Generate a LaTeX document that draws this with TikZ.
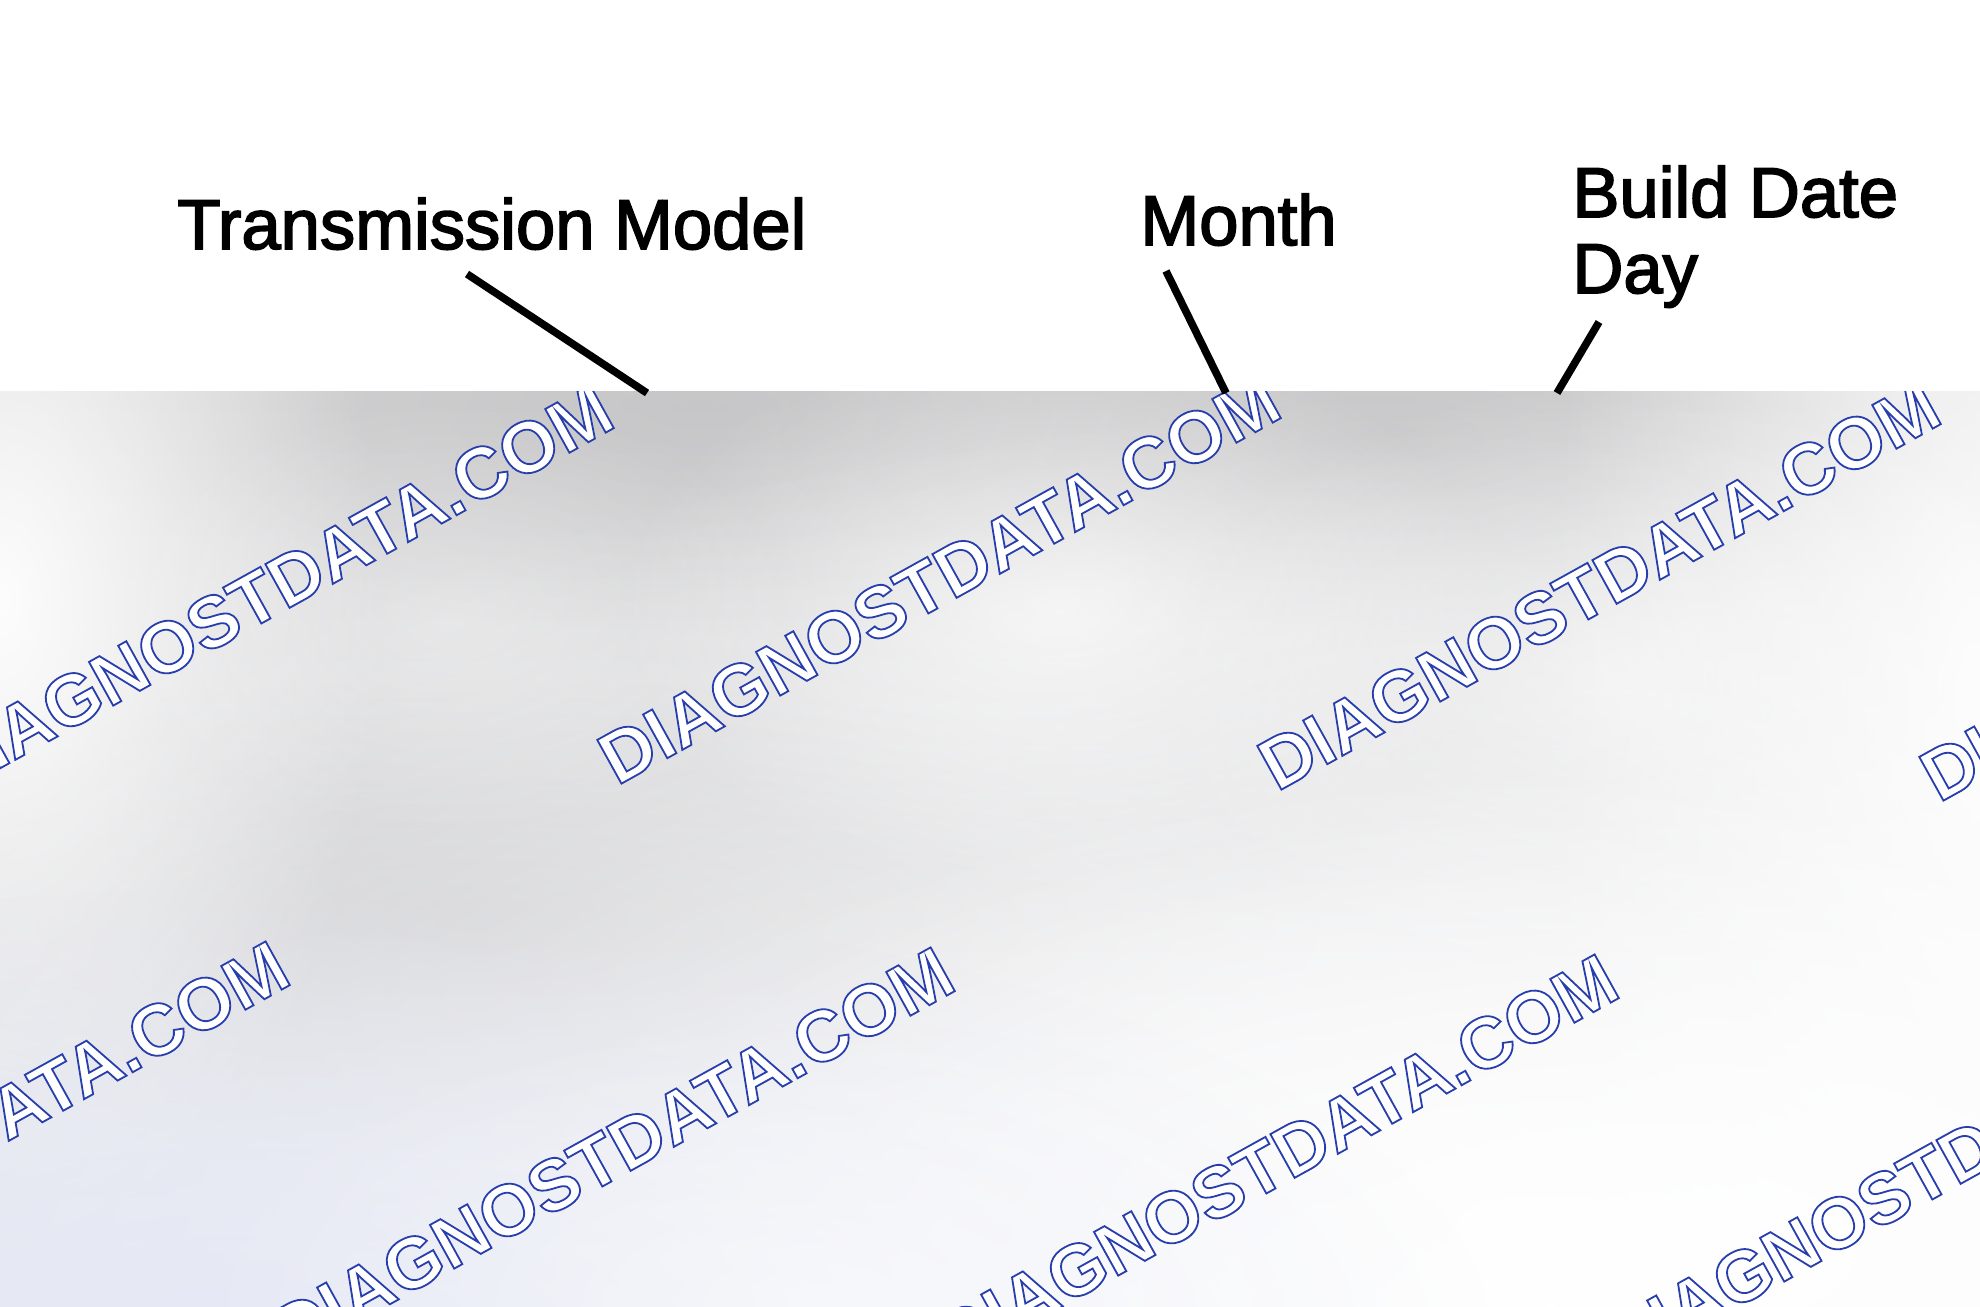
\documentclass[tikz,border=0pt]{standalone}
\usepackage{fontspec}
\setmainfont{Liberation Sans}
\usetikzlibrary{fadings}
\font\lblfnt="Liberation Sans:embolden=2.4" at 35.3pt
\definecolor{wmblue}{RGB}{40,62,172}
\definecolor{blobdark}{RGB}{190,190,192}
\definecolor{blobblue}{RGB}{228,232,246}
\tikzfading[name=softblob, inner color=transparent!0, outer color=transparent!100]
\newcommand{\wmtext}{\special{pdf:literal direct 2 Tr 0.9 w 0.157 0.243 0.675 RG}DIAGNOSTDATA.COM\special{pdf:literal direct 0 Tr}}
\tikzset{
  label/.style={font=\lblfnt, inner sep=0pt, anchor=base west, text=black},
  leader/.style={line width=3.8pt, black},
  wmark/.style={font=\fontsize{36.3}{40}\selectfont\bfseries, text=white, inner sep=0pt, rotate=29},
  lightblob/.style={fill=white, path fading=softblob},
  darkblob/.style={fill=blobdark, path fading=softblob}
}
\begin{document}
\begin{tikzpicture}[x=0.5pt, y=-0.5pt]
\useasboundingbox (0,0) rectangle (1980,1306);
\fill[white] (0,0) rectangle (1980,1306);
% blurred region
\begin{scope}
\clip (0,391) rectangle (1980,1306);
\shade[top color={rgb,255:red,211;green,211;blue,212}, bottom color={rgb,255:red,232;green,233;blue,237}] (0,391) rectangle (1980,1306);
% dark blobs
\fill[darkblob, fill opacity=0.6] (700,410) ellipse [x radius=320pt, y radius=110pt];
\fill[darkblob, fill opacity=0.55] (1380,440) ellipse [x radius=300pt, y radius=100pt];
\fill[darkblob, fill opacity=0.5] (480,920) ellipse [x radius=420pt, y radius=120pt];
\fill[darkblob, fill opacity=0.3] (1500,760) ellipse [x radius=250pt, y radius=90pt];
% light blobs
\fill[lightblob, fill opacity=0.95] (0,600) ellipse [x radius=190pt, y radius=330pt];
\fill[lightblob, fill opacity=0.7] (1060,610) ellipse [x radius=220pt, y radius=140pt];
\fill[lightblob, fill opacity=0.6] (1620,680) ellipse [x radius=230pt, y radius=150pt];
\fill[lightblob, fill opacity=0.95] (1990,700) ellipse [x radius=220pt, y radius=600pt];
\fill[lightblob, fill opacity=1] (1550,1306) ellipse [x radius=950pt, y radius=460pt];
\fill[lightblob, fill opacity=0.8] (1650,1250) ellipse [x radius=600pt, y radius=250pt];
\fill[blobblue, path fading=softblob, fill opacity=0.85] (250,1330) ellipse [x radius=620pt, y radius=220pt];
\fill[lightblob, fill opacity=0.5] (820,1306) ellipse [x radius=320pt, y radius=150pt];
\fill[lightblob, fill opacity=0.35] (450,620) ellipse [x radius=180pt, y radius=110pt];
% watermark
\foreach \n/\px/\py in {a/272/589, b/939/579, c/1599/585, d/2261/596, e/-52/1146, f/613/1152, g/1277/1159, h/1943/1165}
  \node[wmark] (wm\n) at (\px,\py) {\wmtext};
\end{scope}
% labels
\node[label] (tm) at (177,249) {Transmission Model};
\node[label] (mo) at (1140,245) {Month};
\node[label] (bd) at (1572,217) {Build Date};
\node[label] (dy) at (1572,293) {Day};
\coordinate (tmstart) at (467,274);
\coordinate (mostart) at (1166,271);
\coordinate (dystart) at (1599,322);
\coordinate (tmend) at (647,393);
\coordinate (moend) at (1226,393);
\coordinate (dyend) at (1557,393);
\draw[leader] (tmstart) -- (tmend);
\draw[leader] (mostart) -- (moend);
\draw[leader] (dystart) -- (dyend);
\end{tikzpicture}
\end{document}
